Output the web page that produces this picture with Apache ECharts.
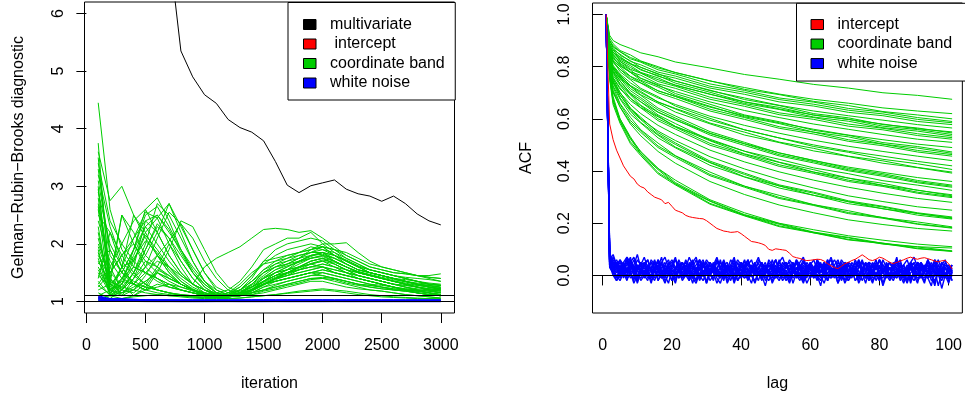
<!DOCTYPE html>
<html><head><meta charset="utf-8">
<script src="https://cdn.jsdelivr.net/npm/echarts@6/dist/echarts.min.js"></script>
<style>html,body{margin:0;padding:0;background:#fff}#c{width:965px;height:397px}</style>
</head><body><div id="c"></div>
<script>
const FONT = '"Liberation Sans", Arial, Helvetica, sans-serif';

// ---------- Left panel: Gelman-Rubin-Brooks ----------
const grIterations = [100,200,300,400,500,600,700,800,900,1000,1100,1200,1300,1400,1500,1600,1700,1800,1900,2000,2100,2200,2300,2400,2500,2600,2700,2800,2900,3000];
const grXTicks = [0,500,1000,1500,2000,2500,3000];
const grYTicks = [1,2,3,4,5,6];
const grRefLines = [1, 1.1];
const grMultivariate = [14,11.5,9.8,8.9,8.2,7.6,7.12,5.35,4.9,4.59,4.44,4.16,4.02,3.94,3.79,3.43,3.02,2.89,3.01,3.06,3.11,2.95,2.87,2.83,2.74,2.83,2.7,2.52,2.4,2.33];
const grIntercept = [1.075,1.01,1.005,1.004,1.004,1.003,1.003,1.003,1.003,1.002,1.002,1.002,1.003,1.004,1.005,1.006,1.008,1.01,1.012,1.015,1.017,1.018,1.018,1.016,1.014,1.012,1.01,1.008,1.006,1.005];
const grCoordBand = [
[4.45,2.6,1.9,1.6,1.5,1.4,1.3,1.25,1.2,1.15,1.12,1.1,1.12,1.2,1.3,1.35,1.4,1.45,1.5,1.45,1.4,1.35,1.3,1.28,1.25,1.22,1.2,1.18,1.15,1.12],
[3.75,1.2,1.6,2.1,2.55,2.45,2.0,1.6,1.3,1.15,1.1,1.12,1.25,1.45,1.7,1.75,1.8,1.85,1.9,1.95,1.8,1.7,1.6,1.5,1.45,1.4,1.35,1.3,1.25,1.22],
[3.6,2.75,3.0,2.5,2.1,1.8,1.5,1.3,1.2,1.1,1.08,1.1,1.15,1.2,1.3,1.4,1.5,1.6,1.7,1.75,1.65,1.55,1.45,1.4,1.35,1.3,1.25,1.2,1.15,1.1],
[3.5,1.4,2.5,2.2,1.8,1.6,1.4,1.3,1.2,1.15,1.1,1.1,1.15,1.3,1.5,1.6,1.65,1.75,1.85,1.9,1.85,1.75,1.65,1.55,1.5,1.45,1.4,1.35,1.3,1.28],
[3.3,1.8,1.5,1.9,2.6,2.8,2.4,1.9,1.5,1.25,1.12,1.1,1.15,1.25,1.4,1.5,1.55,1.6,1.65,1.7,1.6,1.5,1.45,1.4,1.35,1.3,1.28,1.25,1.2,1.18],
[2.9,2.0,1.6,1.7,2.2,2.45,2.7,2.3,1.9,1.5,1.25,1.15,1.2,1.3,1.45,1.6,1.7,1.8,1.85,1.95,1.9,1.8,1.7,1.6,1.55,1.5,1.48,1.45,1.42,1.4],
[2.8,1.3,1.2,1.5,2.0,2.7,2.5,2.1,1.7,1.35,1.15,1.08,1.1,1.2,1.3,1.35,1.4,1.45,1.5,1.55,1.5,1.45,1.4,1.35,1.3,1.25,1.22,1.2,1.18,1.15],
[2.6,1.1,1.6,2.5,2.2,1.8,1.5,1.3,1.2,1.12,1.1,1.15,1.3,1.5,1.65,1.7,1.75,1.8,1.85,1.85,1.7,1.6,1.5,1.45,1.4,1.35,1.3,1.25,1.2,1.18],
[2.4,1.7,1.4,1.3,1.6,2.1,2.55,2.35,1.9,1.5,1.2,1.1,1.12,1.2,1.35,1.45,1.5,1.55,1.6,1.65,1.6,1.5,1.4,1.35,1.3,1.25,1.2,1.15,1.12,1.1],
[2.2,1.2,1.4,1.8,2.3,2.0,1.7,1.45,1.3,1.2,1.15,1.2,1.35,1.6,1.9,2.0,2.1,2.1,2.2,2.0,1.85,1.7,1.6,1.5,1.45,1.4,1.35,1.3,1.28,1.25],
[2.0,1.5,1.8,2.0,1.7,1.5,1.35,1.25,1.18,1.12,1.1,1.1,1.2,1.4,1.7,1.9,2.0,2.05,2.1,2.05,1.9,1.75,1.65,1.55,1.5,1.45,1.4,1.35,1.3,1.28],
[1.9,1.1,1.3,1.6,2.4,2.2,1.8,1.5,1.3,1.6,1.75,1.85,1.95,2.1,2.25,2.27,2.25,2.2,2.23,2.1,1.95,1.8,1.7,1.6,1.55,1.5,1.48,1.45,1.42,1.4],
[1.8,1.4,1.2,1.5,1.9,2.3,2.1,1.8,1.5,1.3,1.15,1.1,1.15,1.25,1.4,1.55,1.65,1.75,1.9,2.0,2.0,2.02,1.85,1.7,1.6,1.55,1.5,1.45,1.45,1.48],
[1.7,1.3,2.5,2.0,1.6,1.4,1.25,1.2,1.15,1.12,1.1,1.12,1.18,1.25,1.35,1.45,1.55,1.7,1.8,1.85,1.75,1.65,1.55,1.5,1.45,1.4,1.35,1.3,1.25,1.2],
[1.6,1.2,1.3,1.7,2.15,1.9,1.6,1.35,1.2,1.1,1.08,1.1,1.2,1.35,1.5,1.6,1.65,1.7,1.75,1.8,1.7,1.6,1.5,1.45,1.4,1.35,1.3,1.25,1.2,1.15],
[1.5,1.15,1.4,1.6,1.5,1.4,1.3,1.2,1.15,1.1,1.08,1.1,1.15,1.25,1.4,1.5,1.55,1.6,1.65,1.6,1.5,1.45,1.4,1.35,1.3,1.25,1.2,1.18,1.15,1.12],
[1.4,2.2,1.8,1.5,1.3,1.2,1.15,1.1,1.1,1.1,1.1,1.12,1.2,1.35,1.55,1.7,1.8,1.85,1.95,1.9,1.8,1.7,1.6,1.5,1.45,1.4,1.35,1.3,1.25,1.22],
[1.3,1.6,2.0,2.4,2.6,2.2,1.8,1.5,1.3,1.2,1.12,1.1,1.12,1.2,1.3,1.4,1.45,1.5,1.55,1.6,1.55,1.5,1.45,1.4,1.35,1.3,1.25,1.2,1.18,1.15],
[3.1,1.9,1.5,1.35,1.25,1.2,1.15,1.12,1.1,1.1,1.1,1.15,1.25,1.45,1.65,1.8,1.9,1.95,2.0,1.95,1.8,1.65,1.55,1.5,1.45,1.4,1.35,1.3,1.28,1.25],
[2.5,2.2,1.6,1.3,1.2,1.5,1.9,2.4,2.3,1.9,1.5,1.25,1.15,1.2,1.3,1.4,1.5,1.55,1.6,1.6,1.5,1.45,1.4,1.35,1.3,1.25,1.2,1.18,1.15,1.12],
[2.3,1.1,1.25,1.5,1.8,2.2,2.7,2.2,1.7,1.35,1.15,1.1,1.1,1.15,1.25,1.35,1.4,1.45,1.5,1.55,1.5,1.45,1.4,1.35,1.3,1.25,1.2,1.15,1.12,1.1],
[1.2,1.3,1.5,1.9,2.5,2.65,2.3,1.9,1.55,1.3,1.15,1.1,1.12,1.18,1.28,1.4,1.45,1.55,1.65,1.7,1.65,1.55,1.45,1.4,1.35,1.3,1.25,1.22,1.2,1.18],
[1.15,1.05,1.2,1.4,1.7,1.6,1.45,1.3,1.2,1.12,1.08,1.08,1.12,1.2,1.3,1.35,1.4,1.45,1.5,1.5,1.45,1.4,1.35,1.3,1.25,1.2,1.18,1.15,1.12,1.1],
[1.1,1.2,1.35,1.3,1.25,1.2,1.15,1.1,1.08,1.06,1.06,1.08,1.1,1.15,1.2,1.25,1.3,1.35,1.4,1.4,1.35,1.3,1.25,1.2,1.18,1.15,1.12,1.1,1.08,1.06],
[2.7,1.6,1.2,1.15,1.3,1.6,2.0,1.7,1.4,1.2,1.1,1.08,1.1,1.2,1.35,1.5,1.6,1.7,1.8,1.85,1.8,1.7,1.6,1.55,1.5,1.45,1.42,1.4,1.38,1.35],
[1.95,1.4,1.1,1.2,1.45,1.8,1.6,1.4,1.25,1.15,1.1,1.1,1.15,1.25,1.35,1.45,1.5,1.6,1.7,1.75,1.65,1.55,1.5,1.45,1.4,1.35,1.3,1.28,1.25,1.22],
[1.35,1.1,1.05,1.1,1.2,1.3,1.25,1.2,1.15,1.1,1.08,1.08,1.1,1.12,1.15,1.2,1.25,1.3,1.35,1.35,1.3,1.25,1.22,1.2,1.18,1.15,1.12,1.1,1.08,1.06],
[3.4,2.4,2.0,1.7,1.5,1.35,1.25,1.2,1.15,1.1,1.08,1.1,1.15,1.25,1.35,1.45,1.55,1.65,1.75,1.8,1.75,1.65,1.55,1.5,1.45,1.4,1.35,1.32,1.3,1.28],
[1.25,1.5,1.8,2.1,2.4,2.5,2.2,1.9,1.6,1.35,1.2,1.12,1.12,1.15,1.2,1.28,1.35,1.4,1.45,1.5,1.45,1.4,1.35,1.3,1.28,1.25,1.22,1.2,1.18,1.15],
[2.1,1.3,1.15,1.25,1.35,1.5,1.4,1.3,1.2,1.12,1.1,1.1,1.15,1.3,1.5,1.65,1.75,1.85,1.9,1.95,1.9,1.85,1.75,1.65,1.6,1.55,1.5,1.45,1.4,1.35],
[1.05,1.1,1.15,1.2,1.35,1.5,1.4,1.3,1.2,1.1,1.06,1.05,1.06,1.08,1.1,1.12,1.15,1.18,1.2,1.22,1.2,1.18,1.15,1.12,1.1,1.08,1.07,1.06,1.05,1.05],
[1.55,1.2,1.1,1.4,1.9,2.35,2.1,1.7,1.4,1.2,1.1,1.08,1.1,1.18,1.3,1.4,1.5,1.6,1.7,1.75,1.7,1.6,1.5,1.45,1.4,1.35,1.3,1.25,1.22,1.2],
[2.95,1.35,1.25,1.2,1.15,1.12,1.1,1.1,1.08,1.08,1.08,1.1,1.12,1.2,1.3,1.38,1.45,1.5,1.55,1.6,1.55,1.5,1.45,1.4,1.35,1.3,1.28,1.25,1.22,1.2],
[1.45,1.25,1.6,1.3,1.2,1.25,1.3,1.2,1.15,1.1,1.08,1.08,1.1,1.15,1.25,1.3,1.35,1.4,1.45,1.45,1.4,1.35,1.3,1.28,1.25,1.22,1.2,1.18,1.15,1.12],
[1.75,1.1,1.2,1.4,1.6,1.8,2.05,2.35,2.1,1.7,1.4,1.2,1.12,1.15,1.2,1.25,1.3,1.35,1.4,1.42,1.4,1.35,1.3,1.25,1.22,1.2,1.18,1.15,1.12,1.1],
[3.2,2.3,1.7,1.45,1.3,1.2,1.15,1.12,1.1,1.1,1.1,1.12,1.2,1.35,1.55,1.65,1.7,1.75,1.8,1.82,1.75,1.65,1.55,1.5,1.45,1.4,1.38,1.35,1.32,1.3],
[1.65,1.9,1.5,1.3,1.2,1.15,1.12,1.1,1.08,1.07,1.07,1.08,1.1,1.12,1.18,1.22,1.28,1.32,1.38,1.4,1.38,1.32,1.28,1.25,1.22,1.2,1.18,1.15,1.12,1.1],
[2.65,1.5,1.3,1.9,2.3,2.5,2.25,1.85,1.5,1.25,1.12,1.08,1.1,1.2,1.35,1.5,1.6,1.7,1.78,1.85,1.8,1.72,1.62,1.55,1.5,1.45,1.4,1.35,1.3,1.28],
[1.02,1.03,1.05,1.08,1.1,1.12,1.1,1.08,1.06,1.05,1.05,1.05,1.06,1.08,1.1,1.12,1.14,1.16,1.18,1.2,1.18,1.15,1.12,1.1,1.08,1.07,1.06,1.05,1.05,1.04],
[1.85,1.2,1.15,1.3,1.5,1.7,1.6,1.45,1.3,1.2,1.12,1.1,1.12,1.2,1.3,1.4,1.48,1.55,1.6,1.65,1.6,1.55,1.5,1.45,1.4,1.35,1.3,1.25,1.22,1.2],
[3.0,1.15,1.3,1.1,1.25,1.55,1.45,1.3,1.2,1.12,1.08,1.09,1.13,1.22,1.33,1.42,1.5,1.58,1.66,1.72,1.68,1.6,1.52,1.46,1.4,1.36,1.32,1.28,1.25,1.23],
[1.28,1.12,1.38,1.75,2.05,1.85,1.55,1.35,1.22,1.13,1.09,1.1,1.16,1.28,1.42,1.55,1.62,1.68,1.75,1.78,1.7,1.6,1.52,1.47,1.42,1.38,1.34,1.3,1.27,1.24]
];
const grWhiteNoise = [
[1.10,1.05,1.05,1.04,1.03,1.025,1.022,1.021,1.02,1.022,1.02,1.021,1.02,1.019,1.02,1.021,1.02,1.022,1.021,1.02,1.019,1.02,1.021,1.02,1.02,1.019,1.02,1.021,1.02,1.02],
[1.07,1.045,1.04,1.035,1.03,1.025,1.02,1.015,1.015,1.014,1.013,1.012,1.012,1.013,1.014,1.013,1.012,1.012,1.013,1.014,1.013,1.012,1.012,1.012,1.011,1.011,1.012,1.011,1.011,1.01],
[1.05,1.02,1.02,1.015,1.01,1.01,1.005,1.005,1.004,1.003,1.003,1.002,1.002,1.002,1.003,1.003,1.002,1.002,1.002,1.003,1.003,1.002,1.002,1.002,1.002,1.001,1.001,1.001,1.001,1.001],
[1.03,1.01,1.008,1.0,0.998,0.997,0.997,0.996,0.996,0.996,0.997,0.997,0.996,0.996,0.996,0.997,0.996,0.996,0.996,0.996,0.997,0.996,0.996,0.996,0.996,0.996,0.996,0.996,0.996,0.996],
[1.09,1.03,1.028,1.025,1.024,1.023,1.025,1.026,1.025,1.027,1.026,1.025,1.026,1.027,1.026,1.025,1.026,1.028,1.027,1.026,1.025,1.026,1.025,1.024,1.025,1.026,1.025,1.024,1.025,1.025],
[1.02,1.01,1.01,1.007,1.007,1.006,1.006,1.006,1.006,1.007,1.006,1.006,1.007,1.007,1.006,1.006,1.007,1.008,1.007,1.007,1.006,1.006,1.006,1.007,1.006,1.006,1.006,1.006,1.006,1.006],
[1.06,1.04,1.035,1.032,1.03,1.03,1.031,1.03,1.03,1.03,1.031,1.03,1.03,1.031,1.032,1.03,1.031,1.03,1.03,1.031,1.03,1.03,1.031,1.03,1.03,1.03,1.03,1.031,1.03,1.03],
[1.04,1.02,1.016,1.017,1.016,1.017,1.016,1.017,1.018,1.017,1.016,1.017,1.016,1.017,1.018,1.017,1.017,1.016,1.017,1.018,1.017,1.016,1.017,1.016,1.016,1.017,1.016,1.016,1.016,1.016]
];

// ---------- Right panel: ACF ----------
const acfIndex = [1,2,3,4,5,6,7,8,9,10,11,12,13,14,15,16,17,18,19,20,21,22,23,24,25,26,27,28,29,30,31,32,33,34,35,36,37,38,39,40,41,42,43,44,45,46,47,48,49,50,51,52,53,54,55,56,57,58,59,60,61,62,63,64,65,66,67,68,69,70,71,72,73,74,75,76,77,78,79,80,81,82,83,84,85,86,87,88,89,90,91,92,93,94,95,96,97,98,99,100,101];
const acfGreenIndex = [1,2,3,5,8,11,16,21,31,41,51,61,71,81,91,101];
const acfXTicks = [0,20,40,60,80,100];
const acfYTicks = [0,0.2,0.4,0.6,0.8,1.0];
const acfRefLines = [0];
const acfIntercept = [1.0,0.58,0.52,0.48,0.45,0.42,0.40,0.38,0.37,0.35,0.34,0.335,0.32,0.31,0.30,0.295,0.29,0.275,0.28,0.265,0.25,0.245,0.24,0.23,0.225,0.222,0.22,0.218,0.217,0.21,0.20,0.19,0.18,0.175,0.17,0.168,0.165,0.166,0.168,0.16,0.15,0.14,0.13,0.128,0.125,0.121,0.115,0.10,0.096,0.102,0.10,0.098,0.096,0.085,0.072,0.068,0.065,0.06,0.057,0.058,0.06,0.062,0.061,0.055,0.045,0.037,0.03,0.026,0.035,0.045,0.05,0.057,0.062,0.07,0.079,0.07,0.06,0.057,0.062,0.07,0.066,0.058,0.05,0.045,0.05,0.055,0.06,0.066,0.07,0.065,0.062,0.066,0.068,0.064,0.06,0.055,0.052,0.056,0.057,0.045,0.025];
const acfCoordBand = [
[1,.92,.90,.885,.87,.853,.838,.818,.795,.77,.752,.732,.718,.70,.69,.675],
[1,.90,.876,.857,.83,.817,.788,.772,.734,.709,.68,.664,.64,.626,.605,.59],
[1,.91,.888,.862,.845,.822,.80,.777,.746,.713,.693,.667,.651,.628,.615,.60],
[1,.89,.865,.848,.82,.807,.779,.764,.725,.702,.674,.656,.633,.619,.598,.585],
[1,.90,.873,.843,.823,.797,.773,.745,.71,.674,.651,.62,.604,.578,.565,.546],
[1,.88,.855,.838,.811,.798,.771,.756,.718,.694,.665,.649,.625,.612,.59,.578],
[1,.89,.864,.834,.813,.787,.766,.737,.702,.665,.644,.614,.598,.572,.559,.54],
[1,.87,.841,.82,.79,.775,.743,.725,.683,.655,.623,.605,.58,.564,.543,.528],
[1,.88,.848,.813,.787,.756,.73,.697,.656,.615,.589,.556,.537,.509,.494,.473],
[1,.86,.831,.81,.78,.767,.734,.717,.675,.648,.616,.598,.572,.558,.536,.522],
[1,.87,.838,.803,.778,.748,.722,.69,.648,.608,.582,.549,.531,.503,.488,.468],
[1,.85,.815,.79,.754,.737,.70,.678,.63,.598,.564,.542,.514,.497,.473,.457],
[1,.86,.822,.781,.75,.717,.685,.649,.602,.558,.527,.494,.472,.445,.428,.406],
[1,.84,.80,.768,.728,.705,.664,.638,.584,.549,.511,.487,.457,.439,.414,.396],
[1,.85,.80,.764,.716,.69,.641,.611,.551,.51,.469,.441,.41,.39,.364,.346],
[1,.83,.794,.754,.725,.692,.66,.626,.581,.538,.509,.477,.456,.43,.413,.392],
[1,.84,.791,.755,.708,.681,.634,.603,.544,.504,.463,.436,.405,.385,.359,.342],
[1,.82,.767,.729,.679,.65,.60,.568,.506,.464,.424,.396,.365,.345,.319,.302],
[1,.83,.781,.732,.692,.652,.611,.571,.516,.466,.433,.396,.373,.345,.327,.305],
[1,.81,.758,.719,.67,.642,.593,.561,.499,.459,.418,.391,.36,.341,.315,.298],
[1,.82,.753,.702,.641,.606,.547,.508,.438,.392,.347,.319,.286,.265,.24,.224],
[1,.80,.739,.68,.63,.586,.537,.492,.432,.378,.343,.307,.283,.255,.238,.218],
[1,.84,.786,.746,.695,.665,.615,.582,.518,.476,.434,.405,.373,.353,.326,.309],
[1,.80,.757,.714,.679,.643,.608,.571,.522,.476,.445,.412,.39,.363,.346,.326],
[1,.79,.726,.676,.618,.584,.527,.489,.422,.377,.335,.307,.275,.256,.231,.216],
[1,.78,.709,.656,.594,.555,.496,.458,.387,.342,.299,.271,.241,.222,.198,.183],
[1,.79,.722,.659,.606,.558,.507,.459,.396,.342,.307,.271,.248,.221,.205,.186],
[1,.77,.70,.646,.586,.548,.49,.452,.382,.338,.295,.268,.237,.219,.196,.181],
[1,.76,.663,.59,.512,.465,.394,.352,.276,.231,.19,.165,.138,.124,.104,.093],
[1,.77,.676,.592,.524,.466,.405,.35,.284,.23,.196,.163,.144,.12,.109,.094],
[1,.75,.654,.583,.505,.459,.389,.347,.273,.228,.187,.163,.136,.122,.102,.092],
[1,.78,.685,.60,.531,.472,.41,.356,.286,.233,.199,.166,.146,.123,.11,.105],
[1,.83,.781,.745,.699,.674,.626,.597,.538,.498,.458,.431,.401,.38,.355,.338],
[1,.86,.824,.799,.763,.745,.707,.686,.637,.605,.57,.549,.52,.503,.479,.463],
[1,.88,.855,.825,.804,.778,.757,.728,.695,.659,.636,.607,.591,.566,.553,.534],
[1,.81,.744,.693,.634,.597,.54,.502,.433,.387,.343,.315,.282,.262,.237,.221],
[1,.90,.88,.858,.835,.82,.795,.778,.745,.72,.695,.675,.66,.642,.63,.62],
[1,.88,.855,.83,.81,.79,.763,.745,.708,.68,.652,.63,.612,.595,.578,.565],
[1,.87,.845,.82,.797,.776,.75,.73,.694,.665,.638,.615,.598,.58,.562,.55],
[1,.86,.832,.805,.778,.755,.727,.705,.665,.632,.605,.58,.56,.54,.522,.51],
[1,.85,.82,.79,.762,.738,.708,.686,.645,.612,.585,.56,.538,.52,.503,.49],
[1,.84,.805,.772,.738,.712,.68,.655,.61,.575,.545,.518,.495,.475,.457,.44],
[1,.83,.795,.76,.725,.70,.665,.64,.595,.558,.527,.50,.476,.457,.437,.42],
[1,.82,.775,.735,.695,.665,.625,.595,.545,.505,.47,.44,.415,.395,.375,.36],
[1,.80,.745,.70,.655,.62,.575,.54,.48,.435,.397,.365,.338,.315,.295,.28],
[1,.80,.74,.69,.64,.60,.553,.517,.455,.408,.368,.335,.305,.283,.263,.25],
[1,.76,.67,.60,.525,.475,.41,.365,.29,.24,.20,.175,.152,.135,.12,.11],
[1,.78,.705,.645,.58,.535,.475,.43,.36,.31,.27,.24,.213,.195,.18,.17]
];
const acfWhiteNoise = [
[1,.06,.03,.01,.04,-.01,.02,.05,.00,-.02,.03,.01,.04,.02,-.01,.00,.03,.05,.01,-.02,.02,.04,.00,.01,.03,-.01,.02,.06,.01,-.03,.01,.03,.02,.00,.04,.01,-.02,.02,.03,.05,.00,-.01,.02,.04,.01,.03,-.02,.00,.02,.01,.04,.03,-.01,.01,.02,.05,.00,-.02,.03,.01,.02,.04,-.01,.00,.03,.02,.01,-.03,.02,.04,.01,.00,.03,-.01,.02,.05,.01,-.02,.00,.03,.02,.04,-.01,.01,.03,.00,.02,-.02,.04,.01,.03,.00,-.03,.02,.05,.01,.00,.02,-.01,.03,.01],
[1,.08,.05,.02,.00,.03,.06,.01,-.01,.02,.04,.00,.02,.05,.03,-.02,.01,.03,.00,.04,.02,-.01,.03,.05,.02,.00,-.02,.03,.04,.01,.02,.05,.00,-.01,.02,.03,.01,.04,-.02,.01,.03,.02,.00,.05,.01,-.01,.03,.02,.04,.00,-.02,.01,.03,.02,.05,.00,.01,-.01,.04,.02,.00,.03,.01,.05,-.02,.02,.03,.00,.01,.04,-.01,.02,.00,.03,.05,.01,-.02,.02,.04,.00,.01,-.01,.03,.02,.00,.04,.01,.03,-.02,.02,.05,.01,.00,-.01,.03,.02,.04,.00,.01,-.02,.02],
[1,.05,.07,.04,.02,.05,.01,.03,.06,.02,.00,.04,.06,.01,.03,.05,.02,.00,.04,.06,.03,.01,.05,.02,.04,.06,.00,.03,.05,.01,.04,.02,.06,.03,.00,.04,.02,.05,.01,.03,.06,.02,.04,.00,.03,.05,.01,.04,.02,.06,.03,.00,.04,.02,.05,.01,.03,.06,.02,.04,.00,.05,.03,.01,.04,.06,.02,.03,.00,.05,.02,.04,.01,.06,.03,.02,.05,.00,.04,.03,.01,.05,.02,.04,.06,.01,.03,.00,.05,.02,.04,.03,.01,.06,.02,.04,.00,.05,.03,.01,.04],
[1,.04,.00,-.02,.01,.03,-.01,.00,.02,-.03,.01,.02,-.01,.00,.03,-.02,.01,.00,-.03,.02,.01,-.01,.00,.02,-.02,.01,.03,-.01,.00,-.02,.02,.01,-.03,.00,.02,-.01,.01,-.02,.03,.00,-.01,.02,.00,-.03,.01,.02,-.01,.00,-.02,.01,.03,-.01,.00,.02,-.03,.01,.00,-.02,.02,-.01,.01,.00,-.04,.02,.01,-.01,.00,.03,-.02,.01,.00,-.01,.02,-.03,.00,.01,-.02,.02,.00,-.01,.03,.00,-.02,.01,-.01,.02,.00,-.03,.01,.02,-.02,.00,.01,-.01,-.04,.02,.00,-.02,.01,-.01,.00],
[1,.09,.04,.06,.03,.05,.07,.02,.04,.08,.03,.05,.02,.06,.04,.01,.05,.07,.03,.04,.06,.02,.05,.03,.07,.04,.01,.06,.03,.05,.02,.04,.07,.03,.05,.02,.06,.04,.01,.05,.03,.06,.02,.04,.07,.03,.05,.01,.04,.06,.02,.05,.03,.06,.04,.02,.05,.07,.03,.04,.01,.06,.03,.05,.02,.04,.06,.03,.01,.05,.04,.02,.06,.03,.05,.04,.01,.05,.03,.06,.02,.04,.05,.02,.06,.03,.04,.01,.05,.07,.03,.04,.02,.05,.03,.06,.04,.01,.05,.03,.04],
[1,.05,.01,.03,-.01,.02,.00,.04,.01,-.02,.02,.03,.00,-.01,.02,.04,.01,-.02,.00,.03,.01,.02,-.01,.01,.04,.00,.02,-.02,.01,.03,.00,-.01,.02,.01,.04,-.02,.00,.03,.01,-.01,.02,.00,.03,.01,-.02,.02,.04,.00,.01,-.01,.03,.02,.00,-.03,.01,.03,.02,.00,-.01,.04,.01,-.02,.02,.00,.03,.01,-.01,.02,.04,.00,-.02,.01,.03,.00,.02,-.01,.01,.04,.00,-.02,.02,.01,-.01,.03,.00,.02,-.02,.01,.03,.00,.01,-.01,.02,.04,.00,-.02,.01,.03,.01,-.01,.02],
[1,.07,.06,.03,.05,.02,.04,.07,.01,.03,.05,.04,.01,.03,.06,.02,.05,.01,.03,.04,.07,.02,.03,.00,.05,.03,.06,.02,.04,.01,.05,.03,.02,.06,.01,.04,.03,.00,.05,.02,.04,.06,.01,.03,.02,.05,.00,.04,.03,.01,.06,.02,.04,.05,.01,.03,.00,.04,.02,.05,.03,.01,.04,.02,.06,.03,.01,.04,.02,.03,.05,.00,.03,.04,.01,.05,.02,.03,.06,.01,.04,.02,.00,.04,.03,.05,.01,.02,.04,.03,.00,.05,.02,.04,.01,.03,.06,.02,.03,.01,.04],
[1,.06,.02,-.01,.03,.01,-.02,.02,.04,.00,-.01,.01,.03,-.02,.00,.02,.01,-.01,.03,.00,-.03,.02,.01,.00,-.02,.03,.01,-.01,.02,.00,.01,-.02,.03,.01,-.01,.00,.02,-.03,.01,.02,.00,-.01,.03,.00,.01,-.02,.02,.00,-.01,.03,.01,-.02,.00,.02,-.01,.01,.03,-.02,.00,.01,-.01,.02,.00,-.03,.01,.02,.00,-.01,.03,-.02,.01,.00,.02,-.01,.01,-.03,.02,.00,.01,-.02,.03,.01,-.01,.00,.02,-.02,.01,.03,-.01,.00,-.03,.02,.01,-.01,.00,.02,-.04,.01,.00,.02,-.02],
[1,.08,.03,.05,.02,.04,.01,.06,.03,.02,.05,.00,.04,.02,.05,.03,.01,.04,.06,.02,.00,.03,.05,.01,.04,.02,.03,.00,.05,.04,.02,.01,.03,.05,.02,.04,.00,.03,.01,.05,.03,.04,.01,.02,.05,.00,.03,.04,.02,.01,.05,.03,.01,.04,.02,.05,.03,.00,.04,.02,.03,.05,.01,.03,.04,.00,.02,.05,.03,.01,.04,.02,.05,.00,.03,.04,.02,.01,.05,.03,.02,.04,.00,.03,.05,.02,.01,.04,.03,.00,.05,.02,.04,.01,.03,.05,.00,.02,.04,.03,.01],
[1,.03,.01,.00,-.02,.01,.03,-.01,.00,.02,-.02,.00,.01,-.03,.02,.00,-.01,.01,.02,-.02,.00,.03,-.01,.00,.01,-.03,.02,.00,-.02,.01,.00,.02,-.01,-.03,.01,.00,.02,-.02,.00,.01,-.01,.00,-.03,.02,.01,-.01,.00,-.02,.01,.02,-.01,.00,.01,-.02,.03,.00,-.01,.01,-.03,.00,.02,-.01,.00,.01,-.02,.02,.00,-.01,.01,-.03,.00,.02,-.02,.00,.01,-.01,.00,.02,-.02,.01,-.04,.00,.01,-.01,.02,.00,-.03,.01,.00,-.02,.01,.00,-.01,.02,-.02,.00,.01,-.05,.00,.01,-.02],
[1,.06,.08,.04,.06,.03,.07,.05,.02,.06,.04,.07,.03,.05,.02,.06,.04,.01,.05,.03,.06,.04,.02,.06,.03,.05,.01,.04,.06,.02,.05,.03,.06,.02,.04,.05,.01,.03,.06,.04,.02,.05,.03,.01,.06,.04,.02,.05,.03,.06,.01,.04,.05,.02,.03,.06,.04,.01,.05,.03,.02,.06,.04,.03,.05,.01,.04,.06,.02,.03,.05,.04,.01,.03,.06,.02,.05,.04,.03,.01,.06,.03,.05,.02,.04,.06,.01,.03,.05,.04,.02,.05,.03,.06,.01,.04,.02,.05,.03,.04,.02],
[1,.04,.02,.04,.00,.02,.05,.01,.03,-.01,.02,.04,.01,.00,.03,.02,-.01,.04,.01,.02,.00,.03,.05,.00,.02,.01,-.02,.03,.01,.04,.00,.02,.01,.03,-.01,.02,.04,.00,.02,.01,.03,.00,.02,.04,.01,-.01,.03,.02,.00,.04,.01,.02,-.01,.03,.01,.00,.04,.02,.01,.03,.00,.02,.04,-.01,.01,.03,.02,.00,.04,.01,.02,.03,.00,.02,-.02,.01,.03,.02,.00,.04,.01,.02,.03,.00,.01,.04,-.01,.02,.03,.01,.00,.03,.02,.01,.04,.00,.02,-.01,.03,.01,.02],
[1,.07,.02,.05,.01,.03,.06,.00,.02,.04,.01,.05,.02,-.01,.03,.06,.01,.02,.04,.00,.03,.05,.01,.03,-.01,.02,.04,.06,.00,.03,.01,.04,.02,.00,.05,.01,.03,.06,.02,-.01,.04,.01,.03,.05,.00,.02,.04,.01,.06,.02,.00,.03,.05,.01,.02,-.01,.04,.03,.00,.05,.02,.01,.04,.02,.06,.00,.03,.01,.05,.02,.04,.00,.02,.05,.01,.03,-.01,.04,.02,.06,.01,.03,.00,.05,.02,.04,.01,-.02,.03,.05,.02,.04,.01,.03,.00,.06,.02,.04,-.01,.03,.01],
[1,.05,.04,-.01,.02,.00,.03,.01,-.02,.04,.02,.00,-.02,.03,.01,.02,-.01,.00,.04,.01,-.02,.03,.00,.02,.01,-.01,.03,.00,.02,-.03,.01,.04,.00,.01,-.02,.03,.02,-.01,.00,.04,.01,-.02,.02,.00,.03,-.01,.01,.02,-.03,.00,.03,.01,.02,-.01,.04,.00,-.02,.02,.01,.03,-.01,.00,.02,.04,-.02,.01,.00,.03,-.01,.02,.01,.03,-.02,.00,.02,.01,.04,-.01,.00,.02,-.03,.01,.03,.00,-.01,.02,.04,.01,-.02,.00,.02,-.01,.03,.01,.00,-.03,.02,.01,.03,-.01,.00],
[1,.06,.05,.03,.06,.04,.02,.05,.07,.03,.01,.04,.06,.02,.05,.03,.07,.01,.04,.05,.02,.06,.03,.04,.01,.05,.07,.02,.03,.06,.04,.01,.05,.03,.06,.02,.04,.07,.01,.03,.05,.04,.06,.02,.03,.05,.01,.06,.04,.02,.05,.07,.03,.04,.01,.06,.02,.05,.03,.04,.06,.02,.05,.01,.04,.07,.03,.02,.06,.04,.01,.05,.03,.06,.02,.04,.05,.01,.03,.06,.04,.02,.05,.03,.07,.01,.04,.06,.02,.03,.05,.04,.01,.06,.03,.05,.02,.04,.06,.01,.03],
[1,.04,.01,-.02,.00,.02,-.01,.01,-.03,.00,.02,-.01,.01,.00,-.02,.02,.00,-.03,.01,.00,-.01,.02,-.02,.00,.01,-.01,-.03,.01,.00,.02,-.02,.00,.01,-.01,.02,-.03,.00,.01,-.02,.00,.02,-.01,.00,-.02,.01,.00,-.04,.01,.02,-.01,.00,.01,-.02,.00,.02,-.01,.00,-.03,.01,-.01,.02,.00,-.02,.01,.00,-.01,.02,-.03,.00,.01,-.02,.00,.01,-.02,.02,-.01,.00,-.03,.01,.00,-.01,.02,.00,-.02,.01,-.01,.00,.02,-.03,.01,-.01,.00,-.02,.01,.00,-.04,.02,-.01,.00,-.03,.01]
];

// ---------- build ----------
const COL = { black: '#000000', red: '#FF0000', green: '#00CD00', blue: '#0000FF' };

function line(name, xs, ys, color, gi, w) {
  return {
    type: 'line', name: name, xAxisIndex: gi, yAxisIndex: gi,
    data: xs.map((x, i) => [x, ys[i]]),
    showSymbol: false, symbol: 'none', color: color,
    lineStyle: { color: color, width: w || 1 }, clip: true, silent: true,
    emphasis: { disabled: true }, animation: false
  };
}
function refLines(vals, gi) {
  return {
    type: 'line', name: '_ref' + gi, xAxisIndex: gi, yAxisIndex: gi, data: [],
    silent: true, animation: false,
    markLine: { symbol: 'none', silent: true, animation: false, label: { show: false },
      lineStyle: { color: '#000', width: 1, type: 'solid' },
      emphasis: { disabled: true },
      data: vals.map(v => ({ yAxis: v })) }
  };
}

const series = [];
series.push(line('multivariate', grIterations, grMultivariate, COL.black, 0));
series.push(line(' intercept', grIterations, grIntercept, COL.red, 0));
grCoordBand.forEach(s => series.push(line('coordinate band', grIterations, s, COL.green, 0)));
series.push(refLines(grRefLines, 0));
grWhiteNoise.forEach(s => series.push(line('white noise', grIterations, s, COL.blue, 0)));

acfCoordBand.forEach(s => series.push(line('coordinate band', acfGreenIndex, s, COL.green, 1)));
series.push(refLines(acfRefLines, 1));
acfWhiteNoise.forEach(s => series.push(line('white noise', acfIndex, s, COL.blue, 1, 1.4)));
series.push(line('intercept', acfIndex, acfIntercept, COL.red, 1));

const txt = { fontSize: 16, color: '#000', fontFamily: FONT };
function xAxis(gi, min, max, ticks, name) {
  return {
    gridIndex: gi, type: 'value', min: min, max: max,
    axisLine: { show: false }, splitLine: { show: false },
    axisTick: { show: true, inside: false, length: 10, customValues: ticks, lineStyle: { color: '#000', width: 1 } },
    axisLabel: Object.assign({ customValues: ticks, margin: 25, formatter: v => String(v) }, txt),
    name: name, nameLocation: 'middle', nameGap: 63, nameTextStyle: txt
  };
}
function yAxis(gi, min, max, ticks, name, fmt, margin) {
  return {
    gridIndex: gi, type: 'value', min: min, max: max,
    axisLine: { show: false }, splitLine: { show: false },
    axisTick: { show: true, inside: false, length: 10, customValues: ticks, lineStyle: { color: '#000', width: 1 } },
    axisLabel: Object.assign({ customValues: ticks, rotate: 90, margin: margin, formatter: fmt }, txt),
    name: name, nameLocation: 'middle', nameGap: 58, nameRotate: 90, nameTextStyle: txt
  };
}
function legend(left, top, names, pad) {
  return {
    show: true, orient: 'vertical', left: left, top: top, data: names,
    icon: 'rect', itemWidth: 12.5, itemHeight: 10, itemGap: 0,
    selectedMode: false, padding: pad,
    borderColor: '#000', borderWidth: 1, backgroundColor: '#fff', borderRadius: 0,
    itemStyle: { borderColor: '#000', borderWidth: 1 },
    textStyle: Object.assign({ lineHeight: 19.5, padding: [0, 0, 0, 9] }, txt)
  };
}

const option = {
  animation: false,
  backgroundColor: '#fff',
  grid: [
    { left: 84.5, top: 2, width: 370, height: 311, show: true, borderColor: '#000', borderWidth: 1, backgroundColor: 'transparent' },
    { left: 592.5, top: 3, width: 370, height: 311, show: true, borderColor: '#000', borderWidth: 1, backgroundColor: 'transparent' }
  ],
  xAxis: [
    xAxis(0, -16, 3116, grXTicks, 'iteration'),
    xAxis(1, -2.96, 103.96, acfXTicks, 'lag')
  ],
  yAxis: [
    yAxis(0, 0.8, 6.2, grYTicks, 'Gelman\u2212Rubin\u2212Brooks diagnostic', v => String(v), 18),
    yAxis(1, -0.144, 1.044, acfYTicks, 'ACF', v => v.toFixed(1), 20)
  ],
  legend: [
    legend(288, 2.5, ['multivariate', ' intercept', 'coordinate band', 'white noise'], [12.25, 10.5, 7.25, 15]),
    legend(796.5, 3.3, ['intercept', 'coordinate band', 'white noise'], [11.5, 18, 7.75, 14])
  ],
  series: series
};

const chart = echarts.init(document.getElementById('c'), null, { renderer: 'canvas' });
chart.setOption(option);
</script>
</body></html>
